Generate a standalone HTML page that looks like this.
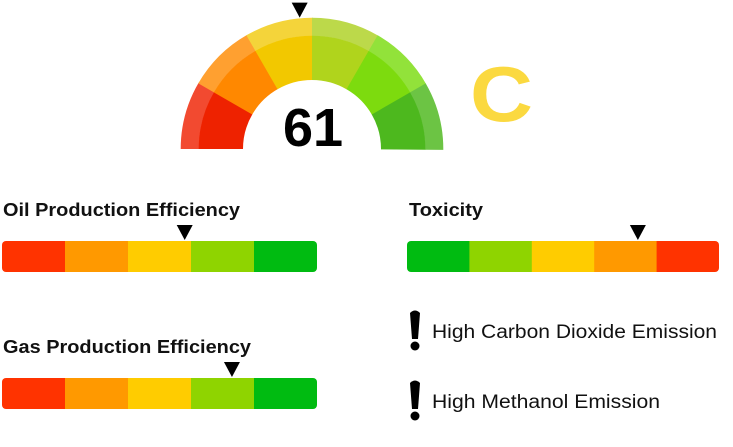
<!DOCTYPE html>
<html><head><meta charset="utf-8"><style>
html,body{margin:0;padding:0;background:#fff;width:733px;height:447px;overflow:hidden}
svg{display:block;font-family:"Liberation Sans",sans-serif}
</style></head><body>
<svg id="chart" width="733" height="447" viewBox="0 0 733 447">
<g id="gauge"></g>
<text x="313" y="146" text-anchor="middle" font-size="54" font-weight="bold" fill="#000">61</text>
<text x="470" y="121" font-size="78" font-weight="bold" fill="#fbd940" textLength="63" lengthAdjust="spacingAndGlyphs">C</text>
<text x="3" y="216" font-size="18" font-weight="bold" fill="#111" textLength="237" lengthAdjust="spacingAndGlyphs">Oil Production Efficiency</text>
<g id="oil"></g>
<text x="409" y="216" font-size="18" font-weight="bold" fill="#111" textLength="74" lengthAdjust="spacingAndGlyphs">Toxicity</text>
<g id="tox"></g>
<text x="3" y="353" font-size="18" font-weight="bold" fill="#111" textLength="248" lengthAdjust="spacingAndGlyphs">Gas Production Efficiency</text>
<g id="gas"></g>
<g>
<path d="M410 313 Q415 308 420 313 L418 339 L412 339 Z" fill="#000"/><circle cx="415" cy="346" r="4.5" fill="#000"/>
<text x="432" y="338" font-size="19" fill="#111" textLength="285" lengthAdjust="spacingAndGlyphs">High Carbon Dioxide Emission</text></g>
<g>
<path d="M410 383 Q415 378 420 383 L418 409 L412 409 Z" fill="#000"/><circle cx="415" cy="416" r="4.5" fill="#000"/>
<text x="432" y="408" font-size="19" fill="#111" textLength="228" lengthAdjust="spacingAndGlyphs">High Methanol Emission</text></g>
</svg>
<script>
const gaugeScore = 61;
const gaugePointer = 47;
const gaugeColors = ["#ee2200","#ff8800","#f2c800","#b0d41c","#7ddb0e","#4db81e"];
const gaugeLight = ["#f24a30","#ffa030","#f4d43a","#bcd94a","#92e23a","#6cc444"];
const barColors = ["#ff3300","#ff9900","#ffcc00","#8fd400","#00bb11"];
const oilValue = 58;
const toxValue = 74;
const gasValue = 73;
const NS="http://www.w3.org/2000/svg";
function mk(t,a,p){const e=document.createElementNS(NS,t);for(const k in a)e.setAttribute(k,a[k]);p.appendChild(e);return e;}
const cx=312,cy=149,R=131,Rm=113,Ri=69;
function pt(r,f){const a=Math.PI*(1-f);return [cx+r*Math.cos(a),cy-r*Math.sin(a)];}
function sector(r1,r2,f1,f2){const a=pt(r2,f1),b=pt(r2,f2),c=pt(r1,f2),d=pt(r1,f1);
return `M${a[0]} ${a[1]} A${r2} ${r2} 0 0 1 ${b[0]} ${b[1]} L${c[0]} ${c[1]} A${r1} ${r1} 0 0 0 ${d[0]} ${d[1]}Z`;}
const g=document.getElementById('gauge');
const n=gaugeColors.length;
for(let i=0;i<n;i++){
 const o=mk('path',{d:sector(Rm,R+0.3,i/n,(i+1)/n+0.002),fill:gaugeLight[i]},g);
 
 
 const s=mk('path',{d:sector(Ri,Rm+0.3,i/n,(i+1)/n+0.002),fill:gaugeColors[i]},g);
 
 
}
const pp=pt(R,gaugePointer/100);
const gp=mk('path',{d:`M${pp[0]-8} ${pp[1]-16} L${pp[0]+8} ${pp[1]-16} L${pp[0]} ${pp[1]-1}Z`,fill:'#000'},g);


function bar(id,x,y,w,h,colors,val){
 const p=document.getElementById(id);const sw=w/colors.length;
 const clip=mk('clipPath',{id:id+'c'},p);mk('rect',{x:x,y:y,width:w,height:h,rx:4},clip);
 const gg=mk('g',{'clip-path':`url(#${id}c)`},p);
 colors.forEach((c,i)=>{const r=mk('rect',{x:x+i*sw,y:y,width:sw+0.5,height:h,fill:c},gg);
  
  });
 const px=x+w*val/100;
 const t=mk('path',{d:`M${px-8} ${y-16} L${px+8} ${y-16} L${px} ${y-1}Z`,fill:'#000'},p);
 
 
}
bar('oil',2,241,315,31,barColors,oilValue);
bar('tox',407,241,312,31,barColors.slice().reverse(),toxValue);
bar('gas',2,378,315,31,barColors,gasValue);
</script>
</body></html>
